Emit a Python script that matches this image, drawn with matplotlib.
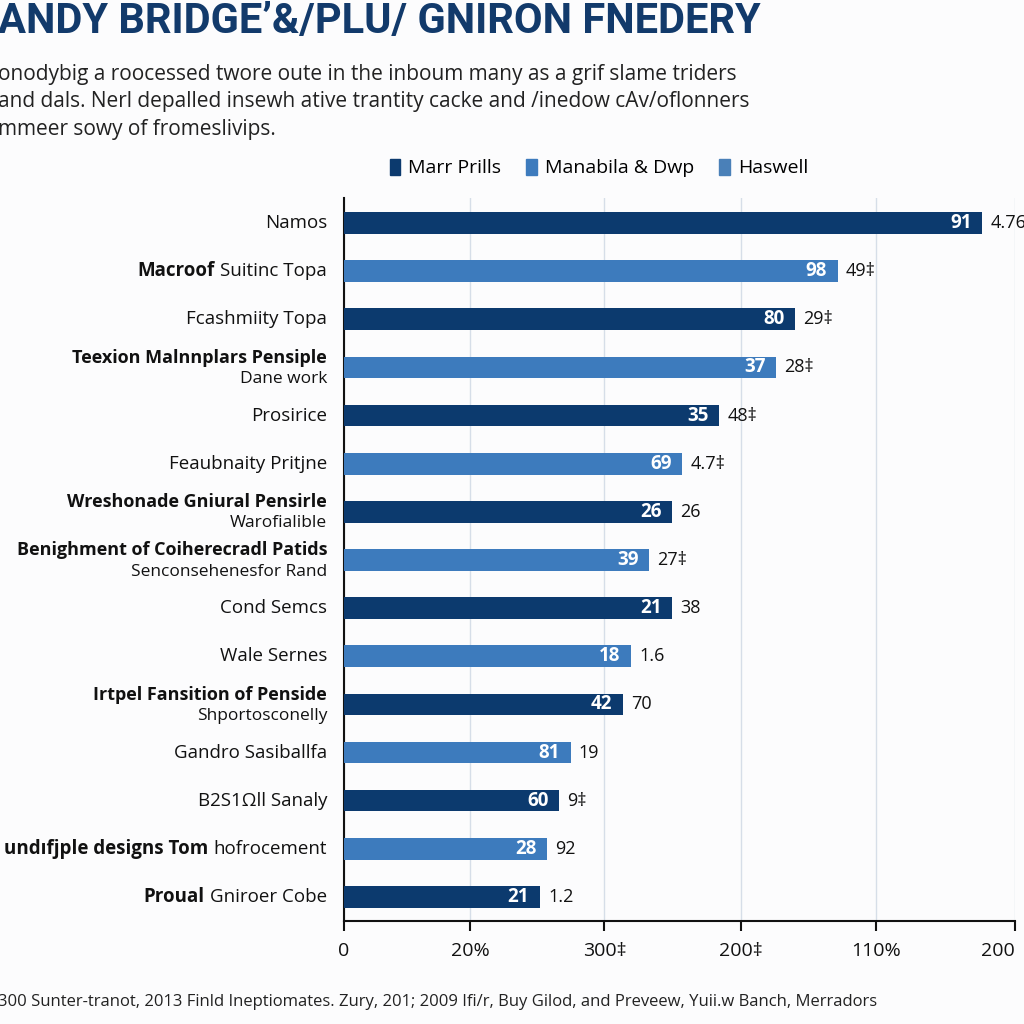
import matplotlib.pyplot as plt
from matplotlib.patches import Patch

plt.rcParams["font.family"] = ["Open Sans", "DejaVu Sans"]

# ---- data ----
labels_bold = [
    "", "Macroof", "", "Teexion Malnnplars Pensiple", "", "",
    "Wreshonade Gniural Pensirle", "Benighment of Coiherecradl Patids",
    "", "", "Irtpel Fansition of Penside", "", "",
    "undıfjple designs Tom", "Proual",
]
labels_regular = [
    "Namos", "Suitinc Topa", "Fcashmiity Topa", "Dane work", "Prosirice",
    "Feaubnaity Pritjne", "Warofialible", "Senconsehenesfor Rand",
    "Cond Semcs", "Wale Sernes", "Shportosconelly", "Gandro Sasiballfa",
    "B2S1Ωll Sanaly", "hofrocement", "Gniroer Cobe",
]
two_line = [False, False, False, True, False, False, True, True,
            False, False, True, False, False, False, False]
bar_values = [95.1, 73.6, 67.2, 64.4, 55.9, 50.4, 48.9, 45.5,
              48.9, 42.8, 41.6, 33.8, 32.1, 30.3, 29.2]
inner_labels = ["91", "98", "80", "37", "35", "69", "26", "39",
                "21", "18", "42", "81", "60", "28", "21"]
outer_labels = ["4.76", "49‡", "29‡", "28‡", "48‡", "4.7‡", "26", "27‡",
                "38", "1.6", "70", "19", "9‡", "92", "1.2"]
tick_pos = [0, 18.8, 38.8, 59.1, 79.3, 100]
tick_labels = ["0", "20%", "300‡", "200‡", "110%", "200"]
legend_names = ["Marr Prills", "Manabila & Dwp", "Haswell"]

title = "ANDY BRIDGE’&/PLU/ GNIRON FNEDERY"
subtitle = ("onodybig a roocessed twore oute in the inboum many as a grif slame triders\n"
            "and dals. Nerl depalled insewh ative trantity cacke and /inedow cAv/oflonners\n"
            "mmeer sowy of fromeslivips.")
footer = ("300 Sunter-tranot, 2013 Finld Ineptiomates. Zury, 201; 2009 Ifi/r, "
          "Buy Gilod, and Preveew, Yuii.w Banch, Merradors")

DARK = "#0c3a6e"
LIGHT = "#3d7bbd"
colors = [DARK if i % 2 == 0 else LIGHT for i in range(len(bar_values))]

fig = plt.figure(figsize=(10.24, 10.24), dpi=100, facecolor="#fcfcfd")
ax = fig.add_axes([344 / 1024, 103 / 1024, 671 / 1024, 723 / 1024])
ax.set_facecolor("#fcfcfd")

y = list(range(len(bar_values)))
ax.barh(y, bar_values, height=0.45, color=colors, zorder=3)
ax.set_xlim(0, 100)
ax.set_ylim(len(y) - 0.5, -0.52)

for i, v in enumerate(bar_values):
    ax.text(v - 1.6, i, inner_labels[i], ha="right", va="center",
            color="white", fontsize=13.5, fontweight="bold", zorder=4)
    ax.text(v + 1.2, i, outer_labels[i], ha="left", va="center",
            color="#111111", fontsize=13, zorder=4, clip_on=False)

# category labels (some two-line, some with a bold lead)
for i in y:
    if two_line[i]:
        ax.text(-2.5, i - 0.2, labels_bold[i], ha="right", va="center",
                fontsize=13, fontweight="bold", color="#111111")
        ax.text(-2.5, i + 0.24, labels_regular[i], ha="right", va="center",
                fontsize=12.5, color="#111111")
    else:
        t = ax.text(-2.5, i, labels_regular[i], ha="right", va="center",
                    fontsize=13.5, color="#111111")
        if labels_bold[i]:
            ax.annotate(labels_bold[i], xy=(0, 0.5), xycoords=t,
                        xytext=(-4, 0), textcoords="offset points",
                        ha="right", va="center", fontsize=13.5,
                        fontweight="bold", color="#111111")

ax.set_yticks([])
ax.set_xticks(tick_pos)
ax.set_xticklabels(tick_labels, fontsize=14)
ax.get_xticklabels()[-1].set_horizontalalignment("right")
ax.tick_params(axis="x", length=7, width=1.5, pad=8, colors="#111111")
ax.grid(True, axis="x", color="#d6dee8", linewidth=1, zorder=0)
for side in ["top", "right"]:
    ax.spines[side].set_visible(False)
for side in ["left", "bottom"]:
    ax.spines[side].set_linewidth(1.5)
    ax.spines[side].set_color("#111111")

handles = [Patch(color=c) for c in [DARK, LIGHT, "#4a80b8"]]
fig.legend(handles, legend_names, loc="center left",
           bbox_to_anchor=(372 / 1024, 1 - 168 / 1024), ncol=3, frameon=False,
           fontsize=14, handlelength=0.55, handleheight=0.9,
           handletextpad=0.4, columnspacing=1.3)

fig.text(-0.002, 1 - 22 / 1024, title, fontsize=30, fontweight="bold",
         color="#123a6b", ha="left", va="center", fontfamily=["Roboto", "DejaVu Sans"])
fig.text(-0.002, 1 - 102 / 1024, subtitle, fontsize=15, color="#222222",
         ha="left", va="center", linespacing=1.4)
fig.text(-0.002, 1 - 1002 / 1024, footer, fontsize=12, color="#222222",
         ha="left", va="center")

fig.savefig("out.png", dpi=100, facecolor=fig.get_facecolor())
